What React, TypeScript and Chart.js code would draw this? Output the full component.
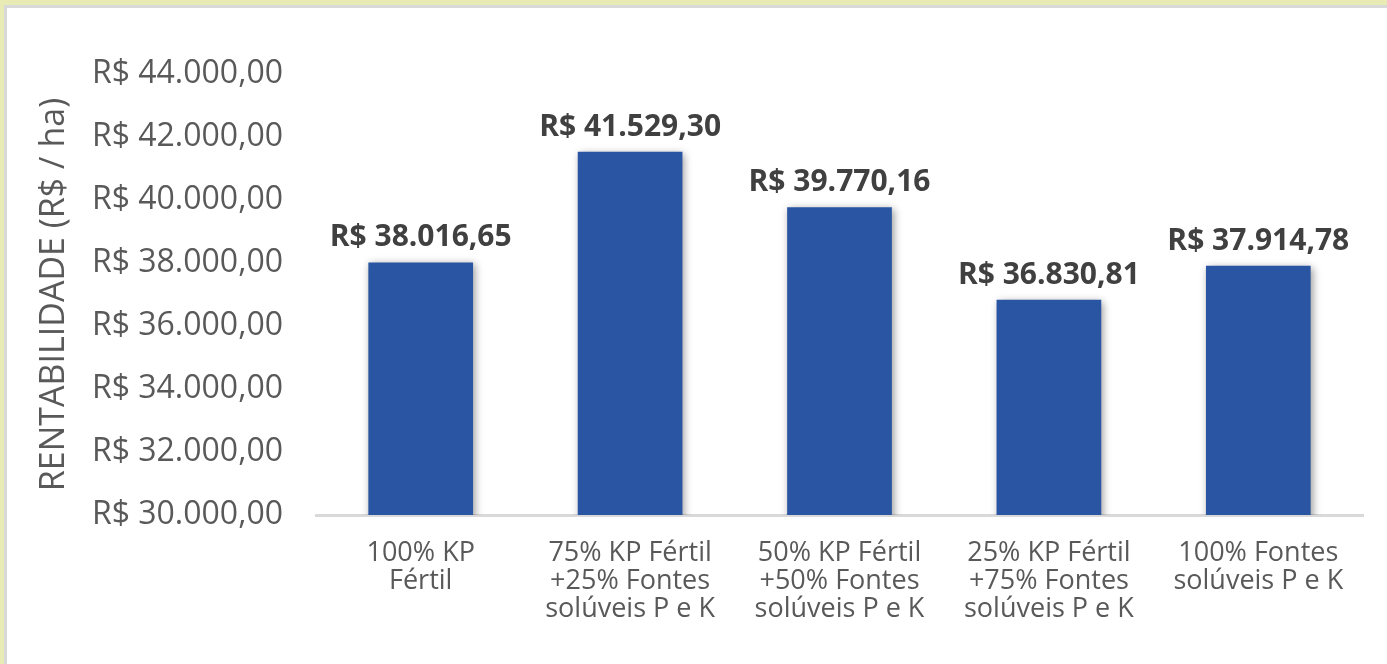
import React, { useEffect, useRef } from "react";
import { Chart, registerables } from "chart.js";

Chart.register(...registerables);

const categories: string[][] = [
  ["100% KP", "Fértil"],
  ["75% KP Fértil", "+25% Fontes", "solúveis P e K"],
  ["50% KP Fértil", "+50% Fontes", "solúveis P e K"],
  ["25% KP Fértil", "+75% Fontes", "solúveis P e K"],
  ["100% Fontes", "solúveis P e K"],
];
const rentabilidade: number[] = [38016.65, 41529.3, 39770.16, 36830.81, 37914.78];
const yMin = 30000;
const yMax = 44000;
const yStep = 2000;
const yTitle = "RENTABILIDADE (R$ / ha)";

function formatBRL(v: number): string {
  const fixed = Math.abs(v).toFixed(2);
  const [intPart, dec] = fixed.split(".");
  const withDots = intPart.replace(/\B(?=(\d{3})+(?!\d))/g, ".");
  return "R$ " + (v < 0 ? "-" : "") + withDots + "," + dec;
}

const FONT = "'Open Sans', 'Noto Sans', sans-serif";

export default function App() {
  const ref = useRef<HTMLCanvasElement | null>(null);

  useEffect(() => {
    document.body.style.margin = "0";
    const canvas = ref.current;
    if (!canvas) return;

    const shadowPlugin = {
      id: "barShadow",
      beforeDatasetsDraw(chart: any) {
        const ctx = chart.ctx;
        ctx.save();
        ctx.shadowColor = "rgba(0,0,0,0.4)";
        ctx.shadowBlur = 8;
        ctx.shadowOffsetX = 2;
        ctx.shadowOffsetY = 2;
      },
      afterDatasetsDraw(chart: any) {
        chart.ctx.restore();
      },
    };

    const labelPlugin = {
      id: "valueLabels",
      afterDraw(chart: any) {
        const ctx = chart.ctx;
        const meta = chart.getDatasetMeta(0);
        ctx.save();
        ctx.font = `bold 30px ${FONT}`;
        ctx.fillStyle = "#404040";
        ctx.textAlign = "center";
        ctx.textBaseline = "alphabetic";
        meta.data.forEach((bar: any, i: number) => {
          ctx.fillText(formatBRL(rentabilidade[i]), bar.x, bar.y - 16);
        });
        ctx.restore();
      },
    };

    const chart = new Chart(canvas, {
      type: "bar",
      data: {
        labels: categories,
        datasets: [
          {
            data: rentabilidade,
            backgroundColor: "#2a55a3",
            borderWidth: 0,
            categoryPercentage: 1,
            barPercentage: 0.5,
          },
        ],
      },
      options: {
        animation: false,
        responsive: false,
        maintainAspectRatio: false,
        layout: { padding: { top: 66, right: 24, left: 0, bottom: 0 } },
        plugins: {
          legend: { display: false },
          tooltip: { enabled: false },
        },
        scales: {
          x: {
            grid: { display: false, drawTicks: false },
            border: { display: true, color: "#d9d9d9", width: 3 },
            ticks: {
              color: "#595959",
              font: { family: FONT, size: 27, lineHeight: 1.04 },
              padding: 24,
              maxRotation: 0,
              autoSkip: false,
            },
            afterFit(scale: any) {
              scale.height = 149;
            },
          },
          y: {
            min: yMin,
            max: yMax,
            grid: { display: false, drawTicks: false },
            border: { display: false },
            ticks: {
              stepSize: yStep,
              color: "#595959",
              font: { family: FONT, size: 32 },
              padding: 33,
              callback: (v: any) => formatBRL(Number(v)),
            },
            title: {
              display: true,
              text: yTitle,
              color: "#595959",
              font: { family: FONT, size: 34 },
              padding: { top: 27, bottom: 0 },
            },
            afterFit(scale: any) {
              scale.width = 309;
            },
          },
        },
      },
      plugins: [shadowPlugin, labelPlugin],
    });

    return () => chart.destroy();
  }, []);

  return (
    <div style={{ position: "relative", width: 1387, height: 664, background: "#e9ebb5", overflow: "hidden" }}>
      <div style={{ position: "absolute", left: 4, top: 5, right: 0, bottom: 0, background: "#d9d9d9" }} />
      <div style={{ position: "absolute", left: 7, top: 8, right: 0, bottom: 0, background: "#ffffff" }}>
        <canvas ref={ref} width={1380} height={656} style={{ display: "block" }} />
      </div>
    </div>
  );
}
